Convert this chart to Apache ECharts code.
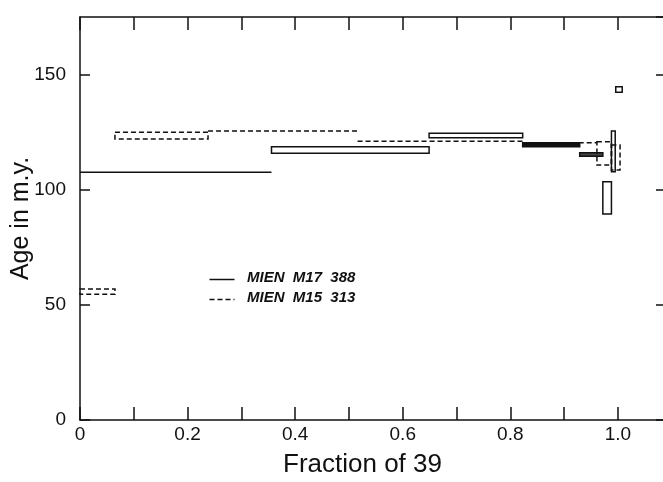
<!DOCTYPE html>
<html>
<head>
<meta charset="utf-8">
<script src="https://cdn.jsdelivr.net/npm/echarts@6/dist/echarts.min.js"></script>
<style>html,body{margin:0;padding:0;background:#fff}#c{width:663px;height:482px}</style>
</head>
<body>
<div id="c"></div>
<script>
// ---- data ----
// MIEN M17 388 (solid): cumulative fraction of 39Ar from/to, age low/high (m.y.)
const m17From = [0.000, 0.356, 0.649, 0.823, 0.929, 0.972, 0.988, 0.996];
const m17To   = [0.356, 0.649, 0.823, 0.929, 0.972, 0.988, 0.995, 1.008];
const m17Lo   = [107.6, 115.8, 122.6, 118.7, 114.5,  89.4, 107.8, 142.3];
const m17Hi   = [107.6, 118.7, 124.5, 120.4, 116.0, 103.5, 125.5, 144.7];
// MIEN M15 313 (dashed)
const m15From = [0.000, 0.065, 0.238, 0.516, 0.823, 0.961, 0.988];
const m15To   = [0.065, 0.238, 0.516, 0.823, 0.961, 0.988, 1.004];
const m15Lo   = [ 54.6, 122.0, 125.5, 121.0, 120.4, 110.7, 108.6];
const m15Hi   = [ 56.9, 124.9, 125.5, 121.0, 120.4, 120.8, 119.4];

const xTickLabels = ['0', '0.2', '0.4', '0.6', '0.8', '1.0'];
const yTickLabels = ['0', '50', '100', '150'];
const seriesNames = ['MIEN M17 388', 'MIEN M15 313'];

// ---- styling ----
const INK = '#111';
const FONT = '"Liberation Sans", Arial, sans-serif';
const m17Fill = {3: '#111', 4: '#444'};

function rows(from, to, lo, hi) {
  return from.map((f, i) => [f, to[i], lo[i], hi[i], i]);
}

function makeRender(dashed, fills) {
  return function (params, api) {
    const x0 = api.value(0), x1 = api.value(1), lo = api.value(2), hi = api.value(3), idx = api.value(4);
    const a = api.coord([x0, hi]);
    const b = api.coord([x1, lo]);
    const style = {stroke: INK, lineWidth: 1.5, fill: 'none'};
    if (dashed) style.lineDash = [5, 3];
    if (Math.abs(hi - lo) < 1e-6) {
      return {type: 'line', shape: {x1: a[0], y1: a[1], x2: b[0], y2: a[1]}, style: style};
    }
    if (fills && fills[idx]) style.fill = fills[idx];
    return {type: 'rect', shape: {x: a[0], y: a[1], width: b[0] - a[0], height: b[1] - a[1]}, style: style};
  };
}

function xLabel(v) {
  const l = xTickLabels.find(t => Math.abs(parseFloat(t) - v) < 1e-6);
  return l === undefined ? '' : l;
}
function yLabel(v) {
  const l = yTickLabels.find(t => Math.abs(parseFloat(t) - v) < 1e-6);
  return l === undefined ? '' : l;
}
function spaced(s) { return s.split(' ').join('  '); }

const XMAX = 1.095, YMAX = 175;
const axisLine = {show: true, onZero: false, lineStyle: {color: INK, width: 1.5}};

const chart = echarts.init(document.getElementById('c'), null, {renderer: 'canvas'});
chart.setOption({
  animation: false,
  backgroundColor: '#fff',
  grid: {left: 80, top: 17, width: 589, height: 403, containLabel: false, outerBoundsMode: 'none'},
  xAxis: [
    {
      type: 'value', min: 0, max: XMAX, interval: 0.1, position: 'bottom',
      axisLine: axisLine,
      axisTick: {show: true, inside: true, length: 13, lineStyle: {color: INK, width: 1.5}},
      axisLabel: {interval: 1, showMaxLabel: false, formatter: xLabel, margin: 5,
        color: INK, fontFamily: FONT, fontSize: 19},
      splitLine: {show: false},
      name: 'Fraction of 39', nameLocation: 'middle', nameGap: 32, nameMoveOverlap: false,
      nameTextStyle: {color: INK, fontFamily: FONT, fontSize: 26, padding: [0, 24, 0, 0]}
    },
    {
      type: 'value', min: 0, max: XMAX, interval: 0.1, position: 'top',
      axisLine: axisLine,
      axisTick: {show: true, inside: true, length: 13, lineStyle: {color: INK, width: 1.5}},
      axisLabel: {show: false}, splitLine: {show: false}
    }
  ],
  yAxis: [
    {
      type: 'value', min: 0, max: YMAX, interval: 50, position: 'left',
      axisLine: axisLine,
      axisTick: {show: true, inside: true, length: 10, lineStyle: {color: INK, width: 1.5}},
      axisLabel: {showMaxLabel: false, formatter: yLabel, margin: 14,
        color: INK, fontFamily: FONT, fontSize: 19},
      splitLine: {show: false},
      name: 'Age in m.y.', nameLocation: 'middle', nameGap: 46, nameRotate: 90, nameMoveOverlap: false,
      nameTextStyle: {color: INK, fontFamily: FONT, fontSize: 25}
    },
    {
      type: 'value', min: 0, max: YMAX, interval: 50, position: 'right',
      axisLine: axisLine,
      axisTick: {show: true, inside: true, length: 13, lineStyle: {color: INK, width: 1.5}},
      axisLabel: {show: false}, splitLine: {show: false}
    }
  ],
  series: [
    {
      name: seriesNames[0], type: 'custom', xAxisIndex: 0, yAxisIndex: 0,
      renderItem: makeRender(false, m17Fill),
      encode: {x: [0, 1], y: [2, 3]},
      data: rows(m17From, m17To, m17Lo, m17Hi), clip: false
    },
    {
      name: seriesNames[1], type: 'custom', xAxisIndex: 0, yAxisIndex: 0,
      renderItem: makeRender(true, null),
      encode: {x: [0, 1], y: [2, 3]},
      data: rows(m15From, m15To, m15Lo, m15Hi), clip: false
    }
  ],
  graphic: [
    {type: 'line', left: 207, top: 277, shape: {x1: 0, y1: 0, x2: 25, y2: 0}, style: {stroke: INK, lineWidth: 1.5}},
    {type: 'text', left: 247, top: 270, style: {text: spaced(seriesNames[0]), fill: INK,
      font: 'italic bold 15px "Liberation Sans", Arial, sans-serif'}},
    {type: 'line', left: 207, top: 297, shape: {x1: 0, y1: 0, x2: 25, y2: 0}, style: {stroke: INK, lineWidth: 1.5, lineDash: [5, 3]}},
    {type: 'text', left: 247, top: 290, style: {text: spaced(seriesNames[1]), fill: INK,
      font: 'italic bold 15px "Liberation Sans", Arial, sans-serif'}}
  ]
});
</script>
</body>
</html>
